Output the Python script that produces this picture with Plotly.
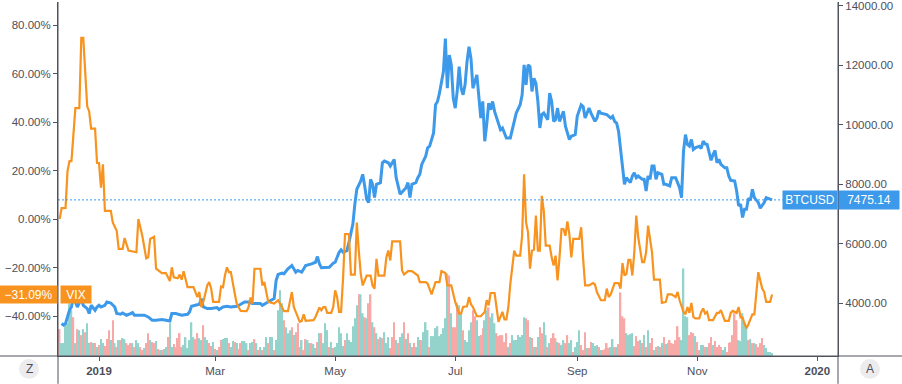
import plotly.graph_objects as go
import pandas as pd

# ---------------- data ----------------
btc_dates = [
    "2018-12-13","2018-12-14","2018-12-15","2018-12-16","2018-12-17","2018-12-18","2018-12-19","2018-12-21","2018-12-22","2018-12-23","2018-12-24","2018-12-25","2018-12-26","2018-12-27","2018-12-28","2018-12-30","2018-12-31",
    "2019-01-01","2019-01-02","2019-01-04","2019-01-05","2019-01-07","2019-01-09","2019-01-10","2019-01-12","2019-01-13","2019-01-15","2019-01-17","2019-01-18","2019-01-19","2019-01-22","2019-01-24","2019-01-26","2019-01-28","2019-01-30",
    "2019-02-02","2019-02-04","2019-02-06","2019-02-07","2019-02-09","2019-02-12","2019-02-15","2019-02-16","2019-02-17","2019-02-19","2019-02-21","2019-02-22","2019-02-23","2019-02-25","2019-02-27",
    "2019-03-02","2019-03-03","2019-03-05","2019-03-07","2019-03-09","2019-03-12","2019-03-14","2019-03-16","2019-03-18","2019-03-20","2019-03-24","2019-03-25","2019-03-27","2019-03-30","2019-03-31",
    "2019-04-01","2019-04-02","2019-04-04","2019-04-05","2019-04-07","2019-04-08","2019-04-09","2019-04-11","2019-04-12","2019-04-14","2019-04-15","2019-04-16","2019-04-19","2019-04-21","2019-04-22","2019-04-23","2019-04-24","2019-04-27","2019-04-28","2019-04-30",
    "2019-05-01","2019-05-03","2019-05-04","2019-05-05","2019-05-07","2019-05-08","2019-05-10","2019-05-11","2019-05-12","2019-05-14","2019-05-15","2019-05-16","2019-05-17","2019-05-18","2019-05-19","2019-05-20","2019-05-21","2019-05-22","2019-05-24","2019-05-25","2019-05-26","2019-05-28","2019-05-29","2019-05-31",
    "2019-06-01","2019-06-03","2019-06-05","2019-06-06","2019-06-07","2019-06-08","2019-06-09","2019-06-11","2019-06-12","2019-06-13","2019-06-14","2019-06-16","2019-06-17","2019-06-18","2019-06-20","2019-06-21","2019-06-22","2019-06-23","2019-06-25","2019-06-26","2019-06-27","2019-06-28","2019-06-29","2019-06-30",
    "2019-07-01","2019-07-02","2019-07-03","2019-07-04","2019-07-05","2019-07-06","2019-07-07","2019-07-08","2019-07-09","2019-07-10","2019-07-12","2019-07-13","2019-07-14","2019-07-15","2019-07-16","2019-07-17","2019-07-18","2019-07-19","2019-07-20","2019-07-21","2019-07-23","2019-07-24","2019-07-25","2019-07-27","2019-07-29","2019-07-31",
    "2019-08-01","2019-08-03","2019-08-04","2019-08-05","2019-08-06","2019-08-07","2019-08-08","2019-08-09","2019-08-10","2019-08-11","2019-08-12","2019-08-13","2019-08-14","2019-08-15","2019-08-17","2019-08-18","2019-08-19","2019-08-20","2019-08-21","2019-08-22","2019-08-23","2019-08-25","2019-08-26","2019-08-28","2019-08-29","2019-08-31",
    "2019-09-01","2019-09-03","2019-09-04","2019-09-05","2019-09-07","2019-09-08","2019-09-10","2019-09-11","2019-09-12","2019-09-13","2019-09-16","2019-09-18","2019-09-19","2019-09-20","2019-09-21","2019-09-22","2019-09-23","2019-09-24","2019-09-25","2019-09-26","2019-09-28","2019-09-29","2019-09-30",
    "2019-10-01","2019-10-02","2019-10-04","2019-10-05","2019-10-06","2019-10-07","2019-10-08","2019-10-09","2019-10-10","2019-10-11","2019-10-12","2019-10-14","2019-10-15","2019-10-16","2019-10-18","2019-10-19","2019-10-21","2019-10-22","2019-10-23","2019-10-24","2019-10-25","2019-10-26","2019-10-27","2019-10-28","2019-10-29","2019-10-30","2019-10-31",
    "2019-11-02","2019-11-03","2019-11-04","2019-11-05","2019-11-06","2019-11-08","2019-11-09","2019-11-10","2019-11-11","2019-11-12","2019-11-13","2019-11-15","2019-11-16","2019-11-17","2019-11-18","2019-11-20","2019-11-21","2019-11-22","2019-11-23","2019-11-24","2019-11-25","2019-11-26","2019-11-27","2019-11-28","2019-11-29","2019-11-30",
    "2019-12-01","2019-12-02","2019-12-03","2019-12-05","2019-12-06","2019-12-07","2019-12-08","2019-12-09",
]
btc_close = [
    3318,3262,3318,3539,3763,3873,4208,3873,4041,4154,3930,3873,3820,3653,3930,3763,3873,
    3930,3873,3930,4041,4007,3873,3653,3629,3673,3596,3653,3686,3596,3596,3596,3539,3429,3429,
    3452,3429,3405,3653,3653,3596,3629,3706,3897,3930,3964,4154,3873,3820,3820,
    3853,3787,3873,3897,3873,3897,3964,4041,4041,3987,3987,3930,4007,4097,4154,
    4766,4967,5010,4990,5158,5211,5268,5044,5101,5044,5158,5268,5325,5378,5569,5325,5191,5191,5211,5345,
    5378,5713,5793,5713,5770,6047,6662,7331,7833,8110,8334,7943,7498,7385,8167,8000,7552,8000,8054,8722,8779,8722,8612,8836,
    8221,7666,7833,7886,8054,7552,8000,8054,8221,8334,8669,8946,9224,9281,9726,10675,10786,11063,11789,12902,11230,12347,12013,10896,
    10562,11120,11956,11230,11010,11344,12123,12625,12234,11230,11678,10896,10227,10786,9448,10006,10729,10508,10786,10451,10006,9839,9893,9558,9558,10117,
    10394,10675,11010,12013,11344,12013,11956,11120,11565,11398,10786,9893,10341,10394,10174,11063,10786,10117,10174,10562,10117,10451,9950,9505,9615,9672,
    10284,10675,10618,10227,10562,10394,10117,10227,10475,10394,10341,10227,10284,10117,10060,9782,9114,8555,8000,8221,8054,8278,8388,
    8221,8278,8167,8167,7776,8278,8167,8612,8612,8167,8388,8334,8000,8000,7943,8221,8221,8020,7886,7552,9114,9672,9338,9281,9505,9170,9224,
    9281,9204,9448,9358,9338,8803,9003,9137,8722,8836,8669,8555,8555,8278,8134,8110,7776,7274,7331,6883,7164,7164,7532,7465,7833,7552,
    7465,7385,7197,7385,7552,7532,7498,7475.14,
]

vix_dates = [
    "2018-12-12","2018-12-13","2018-12-15","2018-12-16","2018-12-17","2018-12-18","2018-12-20","2018-12-22","2018-12-23","2018-12-24","2018-12-26","2018-12-27","2018-12-28","2018-12-30","2018-12-31",
    "2019-01-01","2019-01-02","2019-01-03","2019-01-04","2019-01-07","2019-01-08","2019-01-10","2019-01-11","2019-01-13","2019-01-14","2019-01-15","2019-01-16","2019-01-20","2019-01-21","2019-01-23","2019-01-25","2019-01-26","2019-01-27","2019-01-29","2019-01-30",
    "2019-02-02","2019-02-04","2019-02-06","2019-02-07","2019-02-08","2019-02-10","2019-02-11","2019-02-12","2019-02-13","2019-02-14","2019-02-15","2019-02-18","2019-02-20","2019-02-21","2019-02-22","2019-02-23","2019-02-25","2019-02-26","2019-02-27","2019-02-28",
    "2019-03-03","2019-03-04","2019-03-05","2019-03-06","2019-03-07","2019-03-08","2019-03-09","2019-03-11","2019-03-12","2019-03-14","2019-03-17","2019-03-18","2019-03-19","2019-03-20","2019-03-21","2019-03-24","2019-03-25","2019-03-26","2019-03-27","2019-03-28","2019-03-31",
    "2019-04-02","2019-04-03","2019-04-05","2019-04-07","2019-04-09","2019-04-10","2019-04-12","2019-04-13","2019-04-14","2019-04-15","2019-04-16","2019-04-20","2019-04-21","2019-04-23","2019-04-24","2019-04-25","2019-04-26","2019-04-27","2019-04-29","2019-04-30",
    "2019-05-01","2019-05-02","2019-05-03","2019-05-04","2019-05-05","2019-05-06","2019-05-08","2019-05-09","2019-05-11","2019-05-12","2019-05-13","2019-05-14","2019-05-15","2019-05-17","2019-05-19","2019-05-20","2019-05-21","2019-05-22","2019-05-23","2019-05-26","2019-05-27","2019-05-28","2019-05-29","2019-05-30",
    "2019-06-03","2019-06-04","2019-06-05","2019-06-07","2019-06-09","2019-06-11","2019-06-12","2019-06-13","2019-06-16","2019-06-17","2019-06-18","2019-06-19","2019-06-21","2019-06-23","2019-06-24","2019-06-26","2019-06-27","2019-06-29",
    "2019-07-01","2019-07-03","2019-07-04","2019-07-05","2019-07-07","2019-07-08","2019-07-09","2019-07-10","2019-07-12","2019-07-14","2019-07-16","2019-07-17","2019-07-18","2019-07-19","2019-07-21","2019-07-22","2019-07-23","2019-07-25","2019-07-26","2019-07-27","2019-07-28","2019-07-29","2019-07-30","2019-07-31",
    "2019-08-01","2019-08-03","2019-08-04","2019-08-05","2019-08-06","2019-08-07","2019-08-08","2019-08-09","2019-08-10","2019-08-11","2019-08-12","2019-08-13","2019-08-14","2019-08-15","2019-08-16","2019-08-18","2019-08-19","2019-08-20","2019-08-21","2019-08-22","2019-08-23","2019-08-24","2019-08-25","2019-08-26","2019-08-27","2019-08-28","2019-08-29","2019-08-30",
    "2019-09-02","2019-09-03","2019-09-04","2019-09-05","2019-09-07","2019-09-09","2019-09-10","2019-09-11","2019-09-13","2019-09-15","2019-09-16","2019-09-17","2019-09-18","2019-09-20","2019-09-22","2019-09-23","2019-09-24","2019-09-25","2019-09-26","2019-09-27","2019-09-28","2019-09-29","2019-09-30",
    "2019-10-01","2019-10-02","2019-10-04","2019-10-05","2019-10-06","2019-10-07","2019-10-09","2019-10-10","2019-10-13","2019-10-14","2019-10-16","2019-10-17","2019-10-19","2019-10-21","2019-10-22","2019-10-23","2019-10-25","2019-10-26","2019-10-27","2019-10-28","2019-10-29","2019-10-30","2019-10-31",
    "2019-11-02","2019-11-03","2019-11-04","2019-11-05","2019-11-06","2019-11-07","2019-11-09","2019-11-11","2019-11-12","2019-11-13","2019-11-15","2019-11-17","2019-11-18","2019-11-19","2019-11-21","2019-11-22","2019-11-23","2019-11-24","2019-11-25","2019-11-26","2019-11-27","2019-11-29","2019-11-30",
    "2019-12-01","2019-12-02","2019-12-04","2019-12-05","2019-12-06","2019-12-08","2019-12-09",
]
vix_change = [
    0.0,4.5,4.6,19.8,23.9,23.9,45.8,45.8,74.8,74.8,46.5,44.4,37.3,37.3,23.2,
    23.1,13.0,22.6,3.4,3.4,-1.4,-4.8,-12.3,-12.3,-7.8,-10.3,-13.0,-13.7,0.0,-6.9,-16.2,-15.8,-8.2,-7.3,-20.5,
    -22.3,-22.3,-25.6,-19.9,-24.0,-24.4,-22.9,-25.0,-21.5,-25.3,-28.1,-28.1,-32.2,-30.1,-36.3,-34.2,-27.4,-26.0,-28.7,-34.2,
    -34.2,-27.8,-28.1,-23.3,-19.9,-21.9,-21.9,-30.8,-34.9,-37.9,-38.0,-36.3,-32.4,-34.9,-20.5,-20.5,-27.4,-26.0,-30.1,-34.2,-34.9,
    -33.5,-34.9,-38.0,-38.0,-30.1,-36.3,-40.4,-42.4,-42.0,-39.3,-42.0,-41.7,-40.4,-36.5,-37.6,-36.3,-36.3,-38.7,-38.7,-36.3,
    -29.4,-32.2,-38.3,-38.3,-24.6,-6.2,-6.2,-22.9,-22.9,-1.4,-13.0,-22.6,-27.4,-23.3,-23.3,-27.4,-28.7,-16.4,-23.3,-23.3,-15.8,-13.0,-17.1,-9.2,
    -9.2,-21.2,-22.9,-21.5,-21.5,-22.9,-23.3,-26.0,-26.0,-26.7,-28.7,-31.1,-26.0,-26.0,-21.5,-22.3,-27.4,-27.4,
    -34.2,-39.0,-39.0,-36.3,-36.0,-32.2,-35.2,-36.3,-40.1,-40.1,-38.3,-33.5,-35.6,-30.5,-30.5,-35.6,-42.4,-38.3,-41.4,-41.4,-36.3,-26.7,-19.9,-13.0,
    -15.1,-15.1,-6.9,18.5,-1.4,-5.5,-20.5,-13.0,-12.7,1.4,-13.0,-13.0,9.6,3.4,-11.0,-11.0,-15.8,-19.2,-15.1,-25.3,-15.8,-4.1,-4.1,-6.9,-1.0,-6.2,-15.8,-8.2,
    -8.2,-3.4,-16.4,-27.4,-27.4,-26.4,-27.0,-30.1,-33.5,-33.5,-28.7,-32.2,-31.1,-26.4,-26.4,-28.7,-18.2,-23.3,-22.6,-16.8,-16.8,-23.3,-13.7,
    1.4,-7.5,-17.8,-17.8,-13.7,-2.7,-13.7,-25.0,-25.0,-34.6,-34.2,-31.1,-31.1,-32.2,-30.1,-33.5,-38.3,-39.3,-36.3,-38.7,-34.6,-40.4,-41.0,
    -41.0,-38.3,-36.9,-39.0,-38.3,-41.7,-41.7,-38.7,-38.7,-37.6,-42.0,-42.0,-38.7,-37.9,-38.7,-36.3,-40.6,-40.6,-43.1,-45.1,-43.4,-39.3,-39.3,
    -30.8,-21.9,-28.7,-30.1,-34.2,-34.2,-31.09,
]

# daily volume (arbitrary units) starting 2018-12-12; direction: u = up day, d = down day
vol_start = "2018-12-12"
volume = [
    27,13,13,31,33,53,46,39,13,27, 26,21,27,24,33,13,14,13,13,9, 11,17,13,10,17,26,16,36,13,9,
    16,16,18,17,13,11,13,13,9,16, 13,9,6,8,13,23,16,14,13,15, 7,6,6,7,9,19,33,9,12,9,
    18,23,9,11,19,8,16,34,19,17, 23,18,16,31,19,16,13,10,14,7, 6,9,16,17,18,18,13,9,15,14,
    13,7,13,15,
    15,13,6,13,14,17,13,6,9,6, 9,19,13,19,19,6,16,46,66,53, 36,29,23,26,29,21,24,33,9,16,
    6,17,16,13,13,12,8,14,23,23, 13,33,26,9,14,8,9,13,29,23, 10,16,23,16,14,30,38,51,62,62,
    43,39,38,53,62,34,29,23,17,19, 18,24,13,19,8,19,34,16,13,19, 23,34,17,23,13,9,13,9,19,16,
    16,24,34,26,9,
    20,20,28,30,20,22,28,38,83,81, 43,29,29,53,51,43,26,16,14,26, 34,46,40,36,20,21,28,36,46,49,
    39,43,33,23,20,21,21,14,23,9, 13,21,16,16,21,19,21,39,38,36, 19,18,9,9,19,29,23,34,21,9,
    13,18,23,18,14,13,11,16,13,21, 13,16,4,9,14,26,11,6,24,8, 8,14,13,10,11,9,6,6,7,13,
    8,9,17,9,9,
    12,64,40,38,23,21,22,23,10,20, 15,16,13,21,9,26,13,18,6,9, 10,9,13,19,12,13,16,13,12,16,
    30,19,16,88,40,39,21,24,23,20, 14,6,11,11,9,9,13,19,11,15, 9,11,9,6,9,4,13,14,21,43,
    36,16,15,43,34,28,16,17,13,13, 12,9,13,18,11,8,4,4,3,
]
vol_dir = (
    "duuuuuudud" "ududuududu" "duudddudud" "uduudddudu" "uddudduddu"
    "duduuduudd" "ddduuuuuud" "duuduuddud" "udduuuduud" "uddu"
    "uuduududud" "uuduuduuuu" "duuududddu" "dduuduudud" "uuududuuuu"
    "uduuuuuudu" "ududdududu" "duuudddudu" "udududduuu" "duuud"
    "uuuuuuuuud" "uddduuduuu" "udduudduud" "uuuddddddu" "duuuuuuudd"
    "udududduud" "uddduduudd" "uuduuudddu" "dduuududdd" "duudu"
    "dddduuuudd" "dudududdud" "ududuudddd" "ddu" "u"
    "uudddud" "duududdudd" "dduudddddd" "uuuuududud" "ddduuuuu"
)

x_tick_vals = ["2019-01-01", "2019-03-01", "2019-05-01", "2019-07-01",
               "2019-09-01", "2019-11-01", "2020-01-01"]
x_tick_text = ["<b>2019</b>", "Mar", "May", "Jul", "Sep", "Nov", "<b>2020</b>"]
vix_ticks = [-40, -20, 0, 20, 40, 60, 80]
btc_ticks = [4000, 6000, 8000, 10000, 12000, 14000]

# ---------------- style ----------------
BLUE = "#3d99e9"
ORANGE = "#f7931e"
UP = "#93d3cb"
DOWN = "#f6a9a7"
AX = "#50535e"
TXT = "#4c4f5a"
FONT = "Liberation Sans, Arial, sans-serif"
W, H = 902, 384
ML, MR, MT, MB = 58, 64, 0, 28
PW, PH = W - ML - MR, H - MT - MB


def px(xp):
    return (xp - ML) / PW


def py(yp):
    return (PH - yp) / PH


def pct_label(v):
    return ("\u2212" if v < 0 else "") + f"{abs(v):.2f}%"


vol_x = pd.date_range(vol_start, periods=len(volume), freq="D")
vol_colors = [UP if (i < len(vol_dir) and vol_dir[i] == "u") else DOWN
              for i in range(len(volume))]

fig = go.Figure()
fig.add_trace(go.Bar(x=vol_x, y=volume, marker=dict(color=vol_colors, line=dict(width=0)),
                     yaxis="y", hoverinfo="skip"))
fig.add_trace(go.Scatter(x=pd.to_datetime(btc_dates), y=btc_close, mode="lines",
                         line=dict(color=BLUE, width=3), yaxis="y2", name="BTCUSD"))
fig.add_trace(go.Scatter(x=pd.to_datetime(vix_dates), y=vix_change, mode="lines",
                         line=dict(color=ORANGE, width=2.2), yaxis="y3", name="VIX"))

tickfont = dict(family=FONT, size=11.5, color=TXT)
fig.update_layout(
    width=W, height=H,
    margin=dict(l=ML, r=MR, t=MT, b=MB, pad=0),
    plot_bgcolor="white", paper_bgcolor="white",
    showlegend=False, bargap=0.22,
    font=dict(family=FONT),
    xaxis=dict(type="date", range=["2018-12-11 04:00", "2020-01-11 12:00"],
               tickmode="array", tickvals=x_tick_vals, ticktext=x_tick_text,
               ticks="outside", ticklen=4, tickcolor=AX, tickwidth=1,
               showline=True, linecolor=AX, linewidth=1, showgrid=False,
               zeroline=False, tickfont=tickfont, fixedrange=True),
    yaxis=dict(range=[0, PH], visible=False, fixedrange=True),
    yaxis2=dict(overlaying="y", side="right", range=[2225, 14130],
                tickmode="array", tickvals=btc_ticks,
                ticktext=[f"{v:.2f}" for v in btc_ticks],
                ticks="outside", ticklen=4, tickcolor=AX, showline=True,
                linecolor=AX, linewidth=1, showgrid=False, zeroline=False,
                tickfont=tickfont, fixedrange=True, ticklabeloverflow="allow"),
    yaxis3=dict(overlaying="y", side="left", range=[-56.5, 89.56],
                tickmode="array", tickvals=vix_ticks,
                ticktext=[pct_label(v) for v in vix_ticks],
                ticks="outside", ticklen=4, tickcolor=AX,
                showline=True, linecolor=AX, linewidth=1, showgrid=False,
                zeroline=False, tickfont=tickfont, fixedrange=True,
                ticklabeloverflow="allow"),
)

shapes = [
    # last price dotted line
    dict(type="line", xref="paper", yref="y2", x0=0, x1=px(783),
         y0=btc_close[-1], y1=btc_close[-1],
         line=dict(color=BLUE, width=1, dash="2px,2px")),
    # separators
    dict(type="line", xref="paper", yref="paper", x0=px(0), x1=px(W), y0=0, y1=0,
         line=dict(color=AX, width=1)),
    dict(type="line", xref="paper", yref="paper", x0=0, x1=0, y0=py(H), y1=1,
         line=dict(color=AX, width=1)),
    dict(type="line", xref="paper", yref="paper", x0=1, x1=1, y0=py(H), y1=1,
         line=dict(color=AX, width=1)),
    # Z and A buttons
    dict(type="circle", xref="paper", yref="paper", x0=px(19), x1=px(39),
         y0=py(379), y1=py(359), fillcolor="#ececef", line=dict(width=0)),
    dict(type="circle", xref="paper", yref="paper", x0=px(860), x1=px(880),
         y0=py(379), y1=py(359), fillcolor="#ececef", line=dict(width=0)),
]
fig.update_layout(shapes=shapes)

lab_font = dict(family=FONT, size=12, color="white")
vix_last = vix_change[-1]
annotations = [
    dict(xref="paper", yref="y2", x=px(810), y=btc_close[-1], text="BTCUSD",
         showarrow=False, bgcolor=BLUE, font=lab_font, width=54, height=18,
         borderpad=0, xanchor="center", yanchor="middle"),
    dict(xref="paper", yref="y2", x=px(868.5), y=btc_close[-1],
         text=f"{btc_close[-1]:.2f}", showarrow=False, bgcolor=BLUE,
         font=lab_font, width=60, height=18, borderpad=0,
         xanchor="center", yanchor="middle"),
    dict(xref="paper", yref="y3", x=px(28.5), y=vix_last, text=pct_label(vix_last),
         showarrow=False, bgcolor=ORANGE, font=lab_font, width=57, height=17,
         borderpad=0, xanchor="center", yanchor="middle"),
    dict(xref="paper", yref="y3", x=px(75.5), y=vix_last, text="VIX",
         showarrow=False, bgcolor=ORANGE, font=lab_font, width=30, height=17,
         borderpad=0, xanchor="center", yanchor="middle"),
    dict(xref="paper", yref="paper", x=px(29), y=py(369), text="Z",
         showarrow=False, font=dict(family=FONT, size=12, color=TXT),
         xanchor="center", yanchor="middle"),
    dict(xref="paper", yref="paper", x=px(870), y=py(369), text="A",
         showarrow=False, font=dict(family=FONT, size=12, color=TXT),
         xanchor="center", yanchor="middle"),
]
fig.update_layout(annotations=annotations)

fig.write_html("out.html", config={"displayModeBar": False},
               post_script="document.body.style.margin='0';")
